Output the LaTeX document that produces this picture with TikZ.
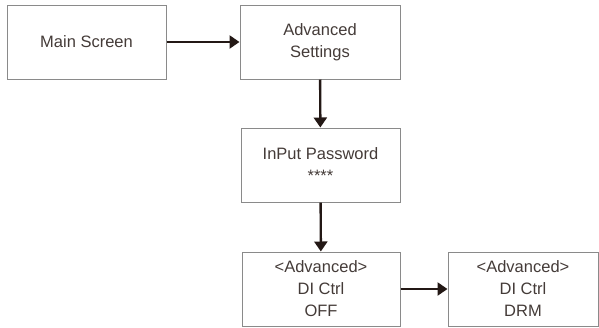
\documentclass[tikz,border=0pt]{standalone}
\usepackage{fontspec}
\setmainfont{Liberation Sans}
\usepackage{xcolor}
\definecolor{menu-line}{HTML}{231815}
\definecolor{menu-frame}{HTML}{8A8A8A}
\usetikzlibrary{arrows.meta,positioning}
\begin{document}
\begin{tikzpicture}[x=1pt, y=-1pt,
  screen/.style={draw=menu-frame, line width=1pt, minimum height=74pt,
    align=center, font=\fontsize{16.5}{22}\selectfont, text=menu-line!85},
  goto/.style={draw=menu-line, line width=2.4pt, -{Triangle[length=10pt,width=13pt]}}]
  \useasboundingbox (0,0) rectangle (599,327);

  % menu screens
  \node[screen, minimum width=159pt] (main) at (86.5,42) {Main Screen};
  \node[screen, minimum width=160pt] (adv) at (320,42) {Advanced\\Settings};
  \node[screen, minimum width=159pt] (pwd) at (320.5,165) {InPut Password\\****};
  \node[screen, minimum width=158pt] (off) at (321,289) {<Advanced>\\DI Ctrl\\OFF};
  \node[screen, minimum width=150pt] (drm) at (523,289) {<Advanced>\\DI Ctrl\\DRM};

  % navigation
  \draw[goto] (main) -- (adv);
  \draw[goto] (adv) -- (pwd);
  \draw[goto] (pwd) -- (off);
  \draw[goto] (off) -- (drm);
\end{tikzpicture}
\end{document}
